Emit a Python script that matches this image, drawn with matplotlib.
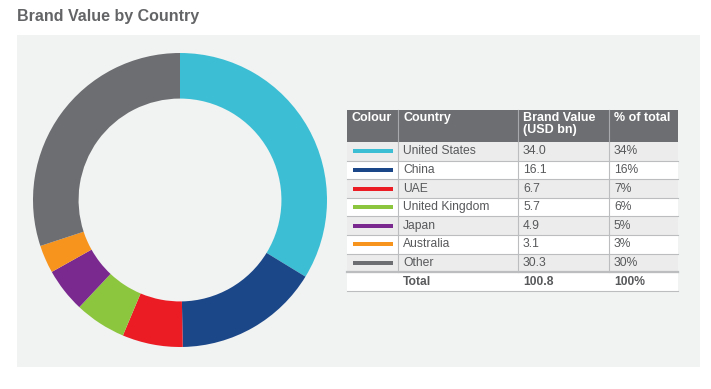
import matplotlib.pyplot as plt
from matplotlib.patches import Rectangle

plt.rcParams['font.family'] = ['Liberation Sans', 'DejaVu Sans']

# data
countries = ['United States', 'China', 'UAE', 'United Kingdom', 'Japan', 'Australia', 'Other']
brand_value = [34.0, 16.1, 6.7, 5.7, 4.9, 3.1, 30.3]
pct_total = ['34%', '16%', '7%', '6%', '5%', '3%', '30%']
colours = ['#3cbfd4', '#1b4789', '#ec1c24', '#8cc63f', '#7a2a8f', '#f7941d', '#6d6e71']
total_value = '100.8'
total_pct = '100%'
headers = ['Colour', 'Country', 'Brand Value\n(USD bn)', '% of total']

W, H = 711, 389
fig = plt.figure(figsize=(W / 100, H / 100), dpi=100)
fig.patch.set_facecolor('white')

# background overlay in pixel coords
bg = fig.add_axes([0, 0, 1, 1])
bg.set_xlim(0, W)
bg.set_ylim(H, 0)
bg.axis('off')

bg.text(17, 16, 'Brand Value by Country', fontsize=11.5, fontweight='bold',
        color='#636466', va='center', ha='left')
bg.add_patch(Rectangle((17, 35), 683, 332, facecolor='#f1f2f2', edgecolor='none'))

# donut
cx, cy, r = 180, 200, 147
pax = fig.add_axes([(cx - r) / W, (H - cy - r) / H, 2 * r / W, 2 * r / H])
pax.pie(brand_value, colors=colours, startangle=90, counterclock=False,
        wedgeprops=dict(width=0.31, edgecolor='none'))
pax.set_xlim(-1, 1)
pax.set_ylim(-1, 1)
pax.set_aspect('equal')
pax.axis('off')

# table
col_x = [347, 398, 518, 609, 678]
head_top, head_bot = 110, 142
row_h = 18.6
txt = '#58595b'
grid = '#bcbdbe'
fs = 8.7

bg.add_patch(Rectangle((col_x[0], head_top), col_x[-1] - col_x[0], head_bot - head_top,
                       facecolor='#6d6e71', edgecolor='none'))
for x in col_x[1:-1]:
    bg.plot([x, x], [head_top, head_bot], color='#a7a9ac', lw=0.8)
pads = [5, 5, 5, 5]
for i, h in enumerate(headers):
    bg.text(col_x[i] + pads[i], head_top + 2, h, fontsize=9, fontweight='bold',
            color='white', va='top', ha='left', linespacing=0.95)

for i, name in enumerate(countries):
    y0 = head_bot + i * row_h
    fc = '#ececec' if i % 2 == 0 else 'white'
    bg.add_patch(Rectangle((col_x[0], y0), col_x[-1] - col_x[0], row_h,
                           facecolor=fc, edgecolor='none'))
    bg.plot([col_x[0], col_x[-1]], [y0 + row_h, y0 + row_h], color=grid, lw=0.8)
    for x in col_x[1:-1]:
        bg.plot([x, x], [y0, y0 + row_h], color=grid, lw=0.8)
    yc = y0 + row_h / 2
    bg.add_patch(Rectangle((352.5, yc - 2), 40, 4, facecolor=colours[i], edgecolor='none'))
    bg.text(col_x[1] + pads[1], yc, name, fontsize=fs, color=txt, va='center')
    bg.text(col_x[2] + pads[2], yc, f'{brand_value[i]:.1f}', fontsize=fs, color=txt, va='center')
    bg.text(col_x[3] + pads[3], yc, pct_total[i], fontsize=fs, color=txt, va='center')

# total row
y0 = head_bot + len(countries) * row_h
bg.add_patch(Rectangle((col_x[0], y0), col_x[-1] - col_x[0], row_h,
                       facecolor='white', edgecolor='none'))
bg.plot([col_x[0], col_x[-1]], [y0, y0], color=grid, lw=1.6)
bg.plot([col_x[0], col_x[-1]], [y0 + row_h, y0 + row_h], color=grid, lw=0.8)
yc = y0 + row_h / 2
bg.text(col_x[1] + pads[1], yc, 'Total', fontsize=fs, fontweight='bold', color=txt, va='center')
bg.text(col_x[2] + pads[2], yc, total_value, fontsize=fs, fontweight='bold', color=txt, va='center')
bg.text(col_x[3] + pads[3], yc, total_pct, fontsize=fs, fontweight='bold', color=txt, va='center')

fig.savefig('out.png', dpi=100)
